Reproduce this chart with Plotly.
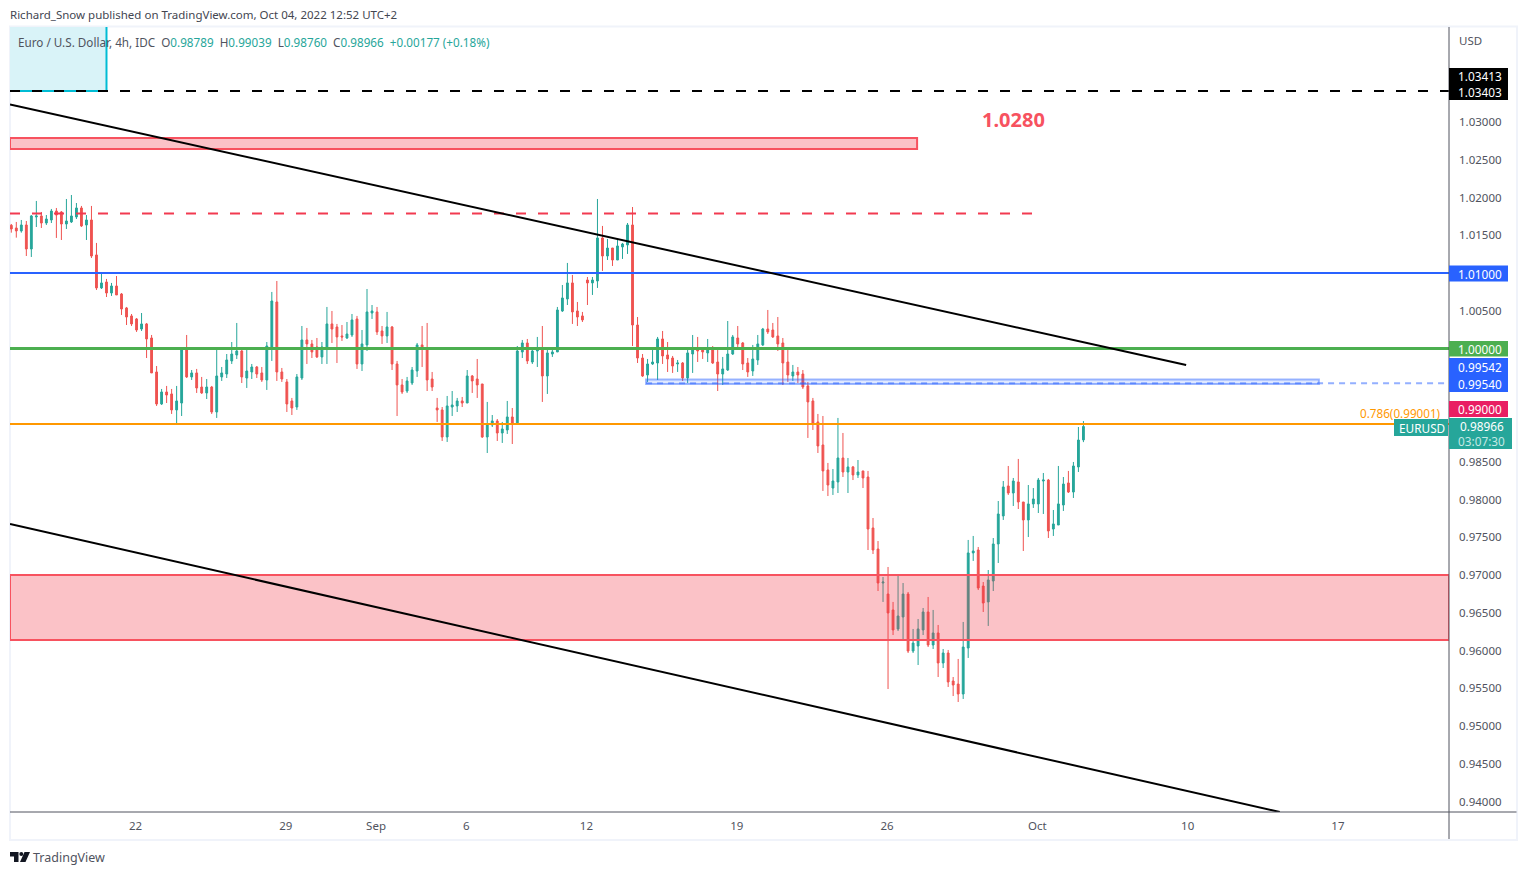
import plotly.graph_objects as go

# EURUSD 4h candles
opens = [
    1.01632,1.01596,1.01557,1.01636,1.01318,1.01742,1.01755,1.01662,1.01702,1.01821,
    1.01808,1.01649,1.01676,1.01742,1.01861,1.01636,1.01702,1.01239,1.00802,1.00881,
    1.00735,1.00828,1.00722,1.00537,1.00431,1.00391,1.00258,1.00325,1.00139,0.99689,
    0.99265,0.99424,0.99398,0.99186,0.99278,0.99980,0.99623,0.99676,0.99490,0.99411,
    0.99490,0.99159,0.99623,0.99662,0.99835,0.99914,0.99967,0.99609,0.99689,0.99755,
    0.99676,0.99583,1.00020,1.00616,0.99689,0.99557,0.99305,0.99225,0.99609,1.00113,
    1.00060,1.00020,0.99888,1.00020,1.00325,1.00285,1.00166,1.00139,1.00179,1.00391,
    0.99795,1.00047,1.00470,1.00484,1.00232,1.00166,1.00285,0.99795,0.99517,0.99437,
    0.99543,0.99702,1.00047,0.99994,0.99596,0.99212,0.99186,0.98828,0.99225,0.99239,
    0.99305,0.99278,0.99636,0.99596,0.99530,0.98828,0.98987,0.99040,0.98881,0.98921,
    0.99093,0.99000,0.99954,1.00073,0.99821,0.99967,1.00007,0.99636,0.99927,0.99954,
    1.00497,1.00656,1.00868,1.00497,1.00431,1.00907,1.00868,1.00894,1.01464,1.01225,
    1.01331,1.01172,1.01345,1.01371,1.01636,1.00311,0.99874,0.99649,0.99795,0.99808,
    1.00126,0.99914,0.99874,0.99795,0.99808,0.99609,0.99927,1.00007,0.99980,0.99941,
    0.99980,0.99821,0.99662,0.99715,0.99927,1.00139,1.00073,0.99808,0.99702,0.99848,
    1.00047,1.00258,1.00245,1.00166,1.00073,0.99821,0.99636,0.99689,0.99662,0.99504,
    0.99305,0.99027,0.98722,0.98391,0.98152,0.98232,0.98550,0.98364,0.98431,0.98325,
    0.98378,0.98298,0.97623,0.97344,0.96894,0.96748,0.96537,0.96285,0.96444,0.96748,
    0.95993,0.96060,0.96272,0.96510,0.96073,0.96232,0.95835,0.95967,0.95596,0.95556,
    0.95424,0.96033,0.97292,0.97331,0.96854,0.96643,0.96921,0.97411,0.97782,0.98179,
    0.98086,0.98232,0.97967,0.97729,0.97941,0.97941,0.98245,0.98258,0.97609,0.97662,
    0.97927,0.98219,0.98099,0.98431,0.98789,
]
highs = [
    1.01649,1.01676,1.01702,1.01689,1.01768,1.01954,1.01808,1.01768,1.01848,1.01861,
    1.01821,1.01980,1.02033,1.01927,1.01888,1.01768,1.01888,1.01398,1.00996,1.00921,
    1.00868,1.00960,1.00735,1.00550,1.00457,1.00404,1.00470,1.00338,1.00179,0.99768,
    0.99464,0.99504,0.99464,0.99504,0.99994,1.00179,0.99715,0.99729,0.99623,0.99596,
    0.99504,0.99980,0.99755,0.99927,1.00086,1.00338,0.99994,0.99994,0.99795,0.99768,
    0.99755,1.00086,1.00749,1.00894,0.99742,0.99596,0.99345,0.99662,1.00298,1.00272,
    1.00113,1.00139,1.00086,1.00550,1.00497,1.00325,1.00311,1.00351,1.00457,1.00431,
    1.00245,1.00788,1.00576,1.00550,1.00298,1.00484,1.00298,0.99835,0.99596,0.99623,
    0.99755,1.00073,1.00298,1.00338,0.99689,0.99345,0.99225,0.99371,0.99437,0.99345,
    0.99358,0.99715,0.99649,0.99861,0.99530,0.99292,0.99119,0.99066,0.99027,0.99305,
    0.99212,1.00033,1.00113,1.00126,0.99994,1.00153,1.00298,0.99980,0.99994,1.00550,
    1.00841,1.01133,1.00974,1.00616,1.00484,1.00947,1.00947,1.01980,1.01623,1.01451,
    1.01331,1.01437,1.01398,1.01662,1.01874,1.00417,0.99927,0.99861,0.99980,1.00153,
    1.00232,1.00086,0.99901,0.99848,0.99821,0.99980,1.00179,1.00153,0.99994,1.00126,
    1.00033,0.99980,0.99888,1.00364,1.00179,1.00298,1.00086,0.99874,1.00047,1.00179,
    1.00272,1.00510,1.00338,1.00417,1.00139,0.99980,0.99782,0.99755,0.99715,0.99557,
    0.99345,0.99133,0.99106,0.98484,0.98404,0.99080,0.98881,0.98550,0.98444,0.98523,
    0.98378,0.98378,0.97755,0.97450,0.96974,0.97106,0.96643,0.96987,0.96894,0.96775,
    0.96285,0.96417,0.96563,0.96709,0.96537,0.96338,0.96020,0.96007,0.95649,0.95888,
    0.96378,0.97464,0.97517,0.97371,0.96907,0.97066,0.97490,0.97980,0.98245,0.98444,
    0.98285,0.98537,0.97967,0.98192,0.98152,0.98285,0.98351,0.98272,0.97861,0.98444,
    0.98298,0.98378,0.98497,0.98960,0.99039,
]
lows = [
    1.01534,1.01468,1.01534,1.01225,1.01212,1.01609,1.01596,1.01636,1.01662,1.01464,
    1.01437,1.01583,1.01662,1.01715,1.01609,1.01437,1.01199,1.00775,1.00788,1.00682,
    1.00696,1.00709,1.00444,1.00311,1.00298,1.00219,1.00232,0.99874,0.99676,0.99239,
    0.99252,0.99278,0.99133,0.99013,0.99106,0.99609,0.99583,0.99411,0.99398,0.99331,
    0.99133,0.99080,0.99570,0.99609,0.99795,0.99861,0.99543,0.99477,0.99596,0.99609,
    0.99557,0.99451,0.99835,0.99570,0.99557,0.99159,0.99119,0.99186,0.99583,0.99795,
    0.99874,0.99874,0.99795,0.99795,1.00073,0.99808,1.00100,1.00126,1.00153,0.99729,
    0.99702,0.99967,1.00391,1.00179,1.00060,1.00073,0.99715,0.99106,0.99398,0.99411,
    0.99517,0.99623,0.99755,0.99437,0.99437,0.99027,0.98775,0.98762,0.99106,0.99159,
    0.99225,0.99278,0.99411,0.99345,0.98815,0.98616,0.98960,0.98775,0.98749,0.98868,
    0.98735,0.99000,0.99874,0.99795,0.99795,0.99755,0.99292,0.99398,0.99888,0.99954,
    1.00484,1.00576,1.00325,1.00298,1.00351,1.00576,1.00709,1.00802,1.01027,1.01172,
    1.01093,1.01172,1.01186,1.01252,1.00033,0.99808,0.99623,0.99557,0.99782,0.99583,
    0.99795,0.99689,0.99676,0.99689,0.99570,0.99543,0.99676,0.99821,0.99861,0.99821,
    0.99795,0.99437,0.99517,0.99702,0.99914,0.99980,0.99715,0.99623,0.99636,0.99782,
    1.00033,1.00192,1.00139,0.99967,0.99517,0.99557,0.99570,0.99543,0.99464,0.98815,
    0.98921,0.98616,0.98113,0.98046,0.98060,0.98086,0.98298,0.98086,0.98258,0.98285,
    0.98152,0.97331,0.97278,0.96788,0.96643,0.95490,0.96205,0.96258,0.96152,0.95967,
    0.95967,0.95808,0.96205,0.96046,0.96020,0.95649,0.95768,0.95517,0.95397,0.95318,
    0.95358,0.95901,0.97186,0.96801,0.96510,0.96325,0.96788,0.97159,0.97729,0.98060,
    0.97914,0.97874,0.97318,0.97503,0.97888,0.97821,0.97808,0.97490,0.97517,0.97662,
    0.97848,0.98086,0.98020,0.98364,0.98760,
]
closes = [
    1.01583,1.01557,1.01636,1.01318,1.01755,1.01755,1.01662,1.01715,1.01821,1.01768,
    1.01649,1.01689,1.01755,1.01861,1.01623,1.01702,1.01225,1.00802,1.00868,1.00735,
    1.00828,1.00709,1.00523,1.00417,1.00325,1.00245,1.00325,1.00126,0.99676,0.99265,
    0.99424,0.99384,0.99186,0.99305,0.99980,0.99623,0.99676,0.99477,0.99411,0.99490,
    0.99159,0.99636,0.99676,0.99848,0.99927,0.99967,0.99623,0.99702,0.99755,0.99662,
    0.99583,1.00033,1.00629,0.99689,0.99596,0.99265,0.99212,0.99623,1.00113,1.00060,
    0.99954,0.99888,1.00020,1.00325,1.00258,1.00153,1.00153,1.00192,1.00378,0.99795,
    1.00060,1.00484,1.00497,1.00219,1.00166,1.00285,0.99795,0.99517,0.99424,0.99570,
    0.99715,1.00047,0.99994,0.99583,0.99490,0.99186,0.98828,0.99239,0.99252,0.99305,
    0.99278,0.99636,0.99570,0.99517,0.98828,0.99000,0.99040,0.98881,0.98934,0.99093,
    0.99000,0.99967,1.00073,0.99835,0.99967,0.99994,0.99636,0.99941,0.99954,1.00510,
    1.00669,1.00868,1.00484,1.00417,1.00378,1.00868,1.00907,1.01464,1.01225,1.01331,
    1.01172,1.01358,1.01384,1.01636,1.00311,0.99874,0.99636,0.99795,0.99821,1.00126,
    0.99901,0.99861,0.99768,0.99808,0.99609,0.99941,0.99980,0.99967,0.99954,0.99994,
    0.99808,0.99662,0.99729,0.99927,1.00153,1.00060,0.99795,0.99689,0.99861,1.00060,
    1.00258,1.00219,1.00153,1.00060,0.99808,0.99649,0.99689,0.99649,0.99490,0.99292,
    0.99000,0.98709,0.98378,0.98192,0.98245,0.98550,0.98364,0.98431,0.98325,0.98364,
    0.98285,0.97609,0.97331,0.96894,0.96907,0.96497,0.96272,0.96457,0.96748,0.95993,
    0.96099,0.96285,0.96510,0.96073,0.96232,0.95835,0.95967,0.95583,0.95543,0.95424,
    0.96046,0.97292,0.97318,0.96828,0.96629,0.96934,0.97411,0.97808,0.98166,0.98086,
    0.98245,0.97967,0.97729,0.97941,0.98007,0.98258,0.98258,0.97583,0.97676,0.97941,
    0.98205,0.98099,0.98444,0.98788,0.98966,
]
bars = list(range(len(opens)))

date_ticks = [25, 55, 73, 91, 115, 145, 175, 205, 235, 265]
date_labels = ["22", "29", "Sep", "6", "12", "19", "26", "Oct", "10", "17"]
price_ticks = [1.03, 1.025, 1.02, 1.015, 1.005, 0.985, 0.98, 0.975, 0.97, 0.965, 0.96, 0.955, 0.95, 0.945, 0.94]

# trend lines drawn on the chart (bar index, price)
upper_trend_x = [-0.26, 234.5]
upper_trend_y = [1.03232, 0.99781]
lower_trend_x = [-0.26, 253.2]
lower_trend_y = [0.97675, 0.93861]

X_RANGE = [-0.26, 286.97]
Y_RANGE = [0.93861, 1.04258]

FONT = "Noto Sans"
GREEN = "#26a69a"
RED = "#ef5350"
ZONE = "#f7525f"
DASH_RED = "#f23a50"
BLUE = "#2962ff"

# page has an 8px body margin, so everything is laid out from there
PAGE = 8
W, H = 1527 - 2 * PAGE, 875 - 2 * PAGE
LEFT, RIGHT, TOP, BOTTOM = 10, 1449, 27, 812


def px(x):
    return (x - LEFT) / (RIGHT - LEFT)


def py(y):
    return (BOTTOM - y) / (BOTTOM - TOP)


fig = go.Figure()
fig.add_trace(go.Candlestick(
    x=bars, open=opens, high=highs, low=lows, close=closes,
    increasing=dict(line=dict(color=GREEN, width=1), fillcolor=GREEN),
    decreasing=dict(line=dict(color=RED, width=1), fillcolor=RED),
    whiskerwidth=0, showlegend=False, hoverinfo="skip",
))


def box(x0, x1, y0, y1, fill, line=None, width=1.5, layer="above"):
    fig.add_shape(type="rect", xref="x", yref="y", x0=x0, x1=x1, y0=y0, y1=y1,
                  fillcolor=fill, line=dict(color=line, width=width if line else 0), layer=layer)


def level(x0, x1, y, color, width=1.5, dash="solid"):
    fig.add_shape(type="line", xref="x", yref="y", x0=x0, x1=x1, y0=y, y1=y,
                  line=dict(color=color, width=width, dash=dash), layer="above")


def tag(x0, x1, y0, y1, color, lines, size=11.8):
    # price tag on the axis, given in page pixels
    fig.add_shape(type="rect", xref="paper", yref="paper", x0=px(x0), x1=px(x1), y0=py(y1), y1=py(y0),
                  fillcolor=color, line_width=0, layer="above")
    step = (y1 - y0) / len(lines)
    for i, (txt, col) in enumerate(lines):
        fig.add_annotation(xref="paper", yref="paper", x=px((x0 + x1) / 2 + 1), y=py(y0 + step * (i + 0.5)),
                           text=txt, showarrow=False, font=dict(family=FONT, size=size, color=col),
                           xanchor="center", yanchor="middle")


def label(x, y, txt, size=11.5, color="#50535e", anchor="left"):
    # annotations carry about 2px of padding
    shift = -2 if anchor == "left" else 2
    fig.add_annotation(xref="paper", yref="paper", x=px(x + shift), y=py(y), text=txt, showarrow=False,
                       font=dict(family=FONT, size=size, color=color), xanchor=anchor, yanchor="middle")


# drawings
box(X_RANGE[0], 19.0, 1.03411, Y_RANGE[1], "#d9f3f8")
fig.add_shape(type="line", xref="x", yref="y", x0=19.0, x1=19.0, y0=1.03411, y1=Y_RANGE[1],
              line=dict(color="#00bcd4", width=2), layer="above")
level(X_RANGE[0], 19.0, 1.03411, "#00bcd4", 2)
level(X_RANGE[0], X_RANGE[1], 1.03411, "#000000", 2, "10px,12px")
box(X_RANGE[0], 180.8, 1.02642, 1.02788, "rgba(242,54,69,0.3)", ZONE, 2)
level(X_RANGE[0], 203.9, 1.01788, DASH_RED, 2, "10px,12px")
level(X_RANGE[0], X_RANGE[1], 1.01, BLUE, 2)
level(X_RANGE[0], X_RANGE[1], 1.0, "#4caf50", 3)
box(126.7, 261.0, 0.9953, 0.99589, "rgba(41,98,255,0.15)", "rgba(41,98,255,0.45)", 2)
level(126.7, X_RANGE[1], 0.9954, "rgba(41,98,255,0.5)", 2, "6px,5px")
level(X_RANGE[0], X_RANGE[1], 0.99001, "#ff9800", 2)
box(X_RANGE[0], X_RANGE[1], 0.96139, 0.97, "rgba(242,54,69,0.3)", ZONE, 2)

for tx, ty in [(upper_trend_x, upper_trend_y), (lower_trend_x, lower_trend_y)]:
    fig.add_shape(type="line", xref="x", yref="y", x0=tx[0], x1=tx[1], y0=ty[0], y1=ty[1],
                  line=dict(color="#000000", width=2), layer="above")

fig.add_annotation(xref="x", yref="y", x=200.0, y=1.03028, text="<b>1.0280</b>", showarrow=False,
                   font=dict(family=FONT, size=20, color=ZONE))
label(1441, 413, "0.786(0.99001)", 11.7, "#ff9800", "right")

# frame and axis lines
frame = "#f0f3fa"
fig.add_shape(type="rect", xref="paper", yref="paper", x0=px(10), x1=px(1517), y0=py(840), y1=py(26.5),
              line=dict(color=frame, width=2), layer="below")
fig.add_shape(type="line", xref="paper", yref="paper", x0=px(1449), x1=px(1449), y0=py(839), y1=py(27),
              line=dict(color="#50535e", width=1), layer="above")
fig.add_shape(type="line", xref="paper", yref="paper", x0=px(10), x1=px(1516.5), y0=py(812), y1=py(812),
              line=dict(color="#50535e", width=1), layer="above")

# price tags
tag(1449, 1508, 68, 100, "#000000", [("1.03413", "#ffffff"), ("1.03403", "#ffffff")])
tag(1449, 1508, 265.5, 281.5, BLUE, [("1.01000", "#ffffff")])
tag(1449, 1508, 341, 356.5, "#4caf50", [("1.00000", "#ffffff")])
tag(1449, 1508, 358, 392, BLUE, [("0.99542", "#ffffff"), ("0.99540", "#ffffff")])
tag(1449, 1508, 401, 417, "#e91e63", [("0.99000", "#ffffff")])
tag(1449, 1512, 418, 449, GREEN, [("0.98966", "#ffffff"), ("03:07:30", "#c4e8e4")])
tag(1394, 1448, 419, 436, GREEN, [("EURUSD", "#ffffff")])

# header text
label(10, 14, "Richard_Snow published on TradingView.com, Oct 04, 2022 12:52 UTC+2", 11.5, "#434651")
v = '<span style="color:#26a69a">%s</span>'
label(18, 42, "Euro / U.S. Dollar, 4h, IDC  O" + v % "0.98789" + "  H" + v % "0.99039" + "  L" + v % "0.98760"
      + "  C" + v % "0.98966" + "  " + v % "+0.00177 (+0.18%)", 11.7, "#50535e")
label(1459, 40.5, "USD", 11.5, "#50535e")

# TradingView logo and name
fig.add_shape(type="path", xref="paper", yref="paper", layer="above", line_width=0, fillcolor="#131722",
              path=f"M {px(10)} {py(852)} L {px(18.5)} {py(852)} L {px(18.5)} {py(862)} L {px(14)} {py(862)} "
                   f"L {px(14)} {py(856.5)} L {px(10)} {py(856.5)} Z "
                   f"M {px(24.5)} {py(852)} L {px(30)} {py(852)} L {px(25.5)} {py(862)} L {px(20)} {py(862)} Z")
fig.add_shape(type="circle", xref="paper", yref="paper", x0=px(19.3), x1=px(23.3), y0=py(856), y1=py(852),
              fillcolor="#131722", line_width=0, layer="above")
label(33, 857, "TradingView", 12.5, "#50535e")

fig.update_layout(
    width=W, height=H,
    margin=dict(l=LEFT - PAGE, r=W - (RIGHT - PAGE), t=TOP - PAGE, b=H - (BOTTOM - PAGE), pad=0),
    paper_bgcolor="#ffffff", plot_bgcolor="#ffffff",
    showlegend=False, hovermode=False, boxgap=0.48,
    font=dict(family=FONT, size=11.5, color="#50535e"),
    xaxis=dict(range=X_RANGE, rangeslider=dict(visible=False), showgrid=False, zeroline=False,
               tickmode="array", tickvals=date_ticks, ticktext=date_labels, ticks="", ticklabelstandoff=5,
               ticklabelshift=-1, showline=False),
    yaxis=dict(range=Y_RANGE, side="right", showgrid=False, zeroline=False, tickmode="array",
               tickvals=price_ticks, tickformat=".5f", ticks="", ticklabelstandoff=9, showline=False),
)

fig.write_html("out.html")
